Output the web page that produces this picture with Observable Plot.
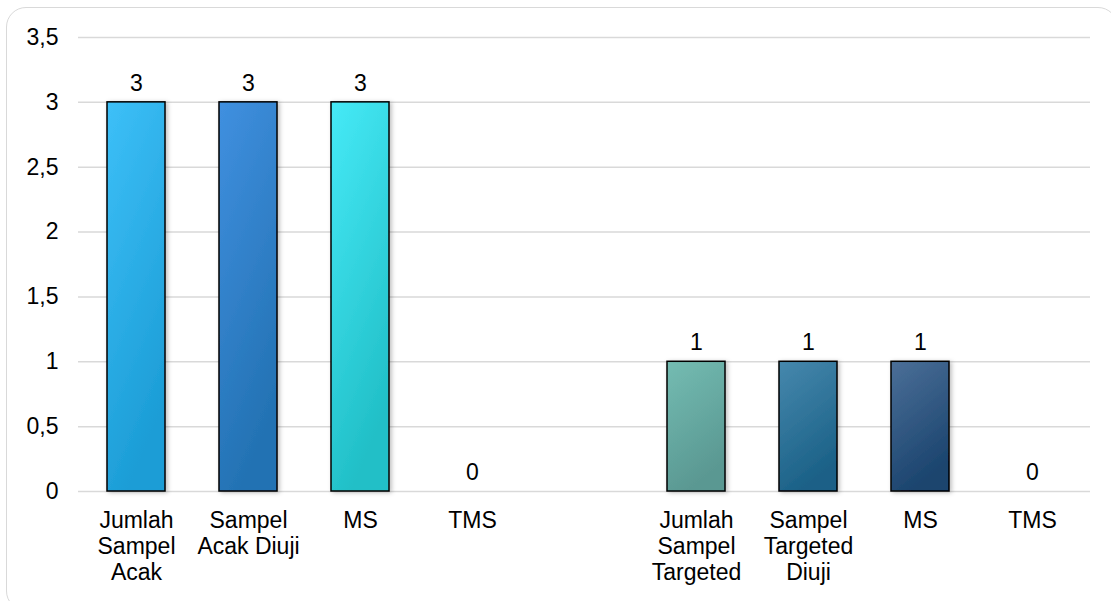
<!DOCTYPE html>
<html>
<head>
<meta charset="utf-8">
<script src="https://cdn.jsdelivr.net/npm/d3@7"></script>
<script src="https://cdn.jsdelivr.net/npm/@observablehq/plot@0.6"></script>
<style>
  html, body { margin: 0; padding: 0; background: #fff; }
  #wrap { position: relative; width: 1111px; height: 601px; overflow: hidden; }
  #frame { position: absolute; left: 6px; top: 7px; width: 1112px; height: 604px;
           border: 1.5px solid #d9d9d9; border-radius: 20px; box-sizing: border-box; }
  #chart { position: absolute; left: 0; top: 0; }
</style>
</head>
<body>
<div id="wrap"><div id="frame"></div><div id="chart"></div></div>
<script>
// Category keys (unique), their display labels, and values
const keys = ["a1", "a2", "a3", "a4", "gap", "t1", "t2", "t3", "t4"];
const labels = ["Jumlah\nSampel\nAcak", "Sampel\nAcak Diuji", "MS", "TMS", "", "Jumlah\nSampel\nTargeted", "Sampel\nTargeted\nDiuji", "MS", "TMS"];
const values = [3, 3, 3, 0, null, 1, 1, 1, 0];
const yTicks = [0, 0.5, 1, 1.5, 2, 2.5, 3, 3.5];
// gradient colours per bar (top, bottom)
const topColors = ["#3dc0f8", "#4090e0", "#46eaf7", null, null, "#74bcb2", "#4688ad", "#4b6f98", null];
const bottomColors = ["#1c9dd6", "#2372b3", "#21bfc7", null, null, "#5a9892", "#1b6187", "#1b446e", null];

const data = keys.map((k, i) => ({key: k, label: labels[i], value: values[i], fill: `url(#grad${i})`}))
  .filter(d => d.key !== "gap");
const labelOf = Object.fromEntries(keys.map((k, i) => [k, labels[i]]));
const fmt = v => String(v).replace(".", ",");
const FONT = "'Liberation Sans', Arial, sans-serif";
const FS = 23;

const chart = Plot.plot({
  width: 1111,
  height: 601,
  marginLeft: 78,
  marginRight: 21,
  marginTop: 37,
  marginBottom: 110,
  style: {fontFamily: FONT, fontSize: FS + "px", color: "#000", background: "transparent"},
  x: {domain: keys, paddingInner: 0.484, paddingOuter: 0.242, align: 0.5, label: null},
  y: {domain: [0, 3.5], label: null},
  color: {type: "identity"},
  marks: [
    Plot.ruleY(yTicks, {stroke: "#d9d9d9", strokeWidth: 1.5}),
    Plot.axisY({ticks: yTicks, tickSize: 0, tickPadding: 20, tickFormat: fmt, fontSize: FS, fill: "#000", label: null}),
    Plot.axisX({tickSize: 0, tickPadding: 18, tickFormat: k => labelOf[k], fontSize: FS, lineHeight: 1.13, fill: "#000", label: null}),
    Plot.barY(data.filter(d => d.value > 0), {x: "key", y: "value", fill: "fill", stroke: "#000", strokeWidth: 1.5}),
    Plot.text(data, {x: "key", y: "value", text: d => fmt(d.value), dy: -19, fontSize: FS, fill: "#000"})
  ]
});

// gradients + shadow
const svg = d3.select(chart);
const defs = svg.insert("defs", ":first-child");
keys.forEach((k, i) => {
  if (!topColors[i]) return;
  const g = defs.append("linearGradient").attr("id", `grad${i}`)
    .attr("x1", "0").attr("y1", "0").attr("x2", "0.35").attr("y2", "1");
  g.append("stop").attr("offset", "0").attr("stop-color", topColors[i]);
  g.append("stop").attr("offset", "1").attr("stop-color", bottomColors[i]);
});
const f = defs.append("filter").attr("id", "shadow").attr("x", "-20%").attr("y", "-10%").attr("width", "140%").attr("height", "120%");
f.append("feDropShadow").attr("dx", 2).attr("dy", 1).attr("stdDeviation", 2).attr("flood-color", "#000").attr("flood-opacity", 0.25);
svg.selectAll("g[aria-label='bar'] rect").attr("filter", "url(#shadow)");

document.getElementById("chart").appendChild(chart);
</script>
</body>
</html>
